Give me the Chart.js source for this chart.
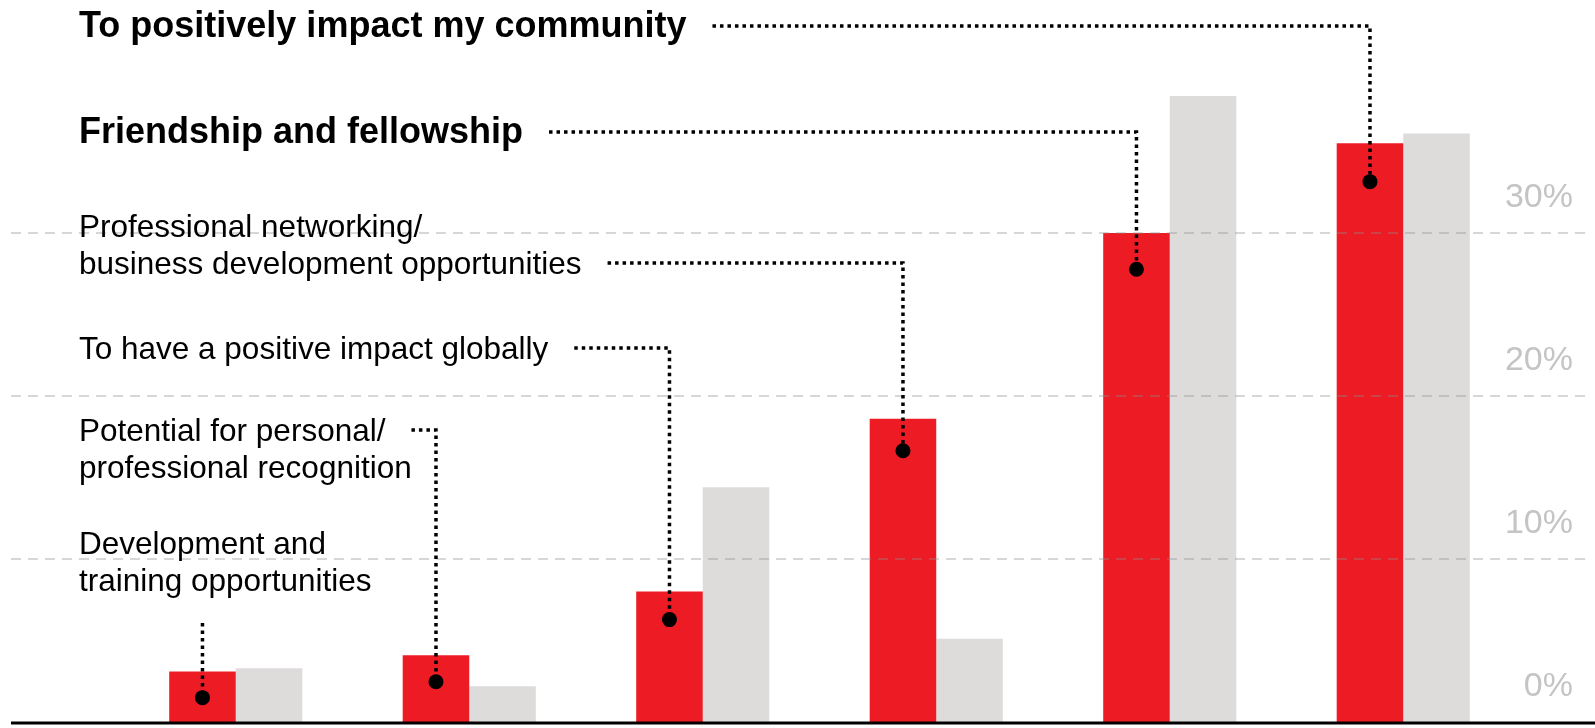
<!DOCTYPE html>
<html>
<head>
<meta charset="utf-8">
<script src="https://cdn.jsdelivr.net/npm/chart.js@4/dist/chart.umd.min.js"></script>
<style>
  body { margin: 0; background: #fff; }
  #wrap { width: 1595px; height: 728px; position: relative; }
</style>
</head>
<body>
<div id="wrap"><canvas id="reasonsChart"></canvas></div>
<script>
// categories, as they are written beside the chart (one entry per bar pair)
const categories = [
    ['Development and', 'training opportunities'],
    ['Potential for personal/', 'professional recognition'],
    ['To have a positive impact globally'],
    ['Professional networking/', 'business development opportunities'],
    ['Friendship and fellowship'],
    ['To positively impact my community']
];

// percent values
const redValues = [3.1, 4.1, 8.0, 18.6, 30.0, 35.5];
const greyValues = [3.3, 2.2, 14.4, 5.1, 38.4, 36.1];

const yTicks = [0, 10, 20, 30];

// where each label sits (text baseline of first line) and which line the leader leaves from
const noteLayout = [
    { y: 554, bold: false, leaderLine: -1, leaderTop: 623 },
    { y: 441, bold: false, leaderLine: 0 },
    { y: 359, bold: false, leaderLine: 0 },
    { y: 237, bold: false, leaderLine: 1 },
    { y: 143, bold: true, leaderLine: 0 },
    { y: 37, bold: true, leaderLine: 0 }
];

const FONT = '"Liberation Sans", Arial, sans-serif';

const notesPlugin = {
    id: 'notes',
    afterDatasetsDraw(chart) {
        const c = chart.ctx;
        const ys = chart.scales.y;

        // dashed gridlines, drawn over the bars and wider than the plot
        c.save();
        c.strokeStyle = 'rgba(140,140,140,0.35)';
        c.lineWidth = 2;
        c.setLineDash([10, 7]);
        yTicks.forEach(t => {
            if (t === 0) return;
            const py = Math.round(ys.getPixelForValue(t));
            c.beginPath();
            c.moveTo(11, py);
            c.lineTo(1590, py);
            c.stroke();
        });
        c.restore();

        // baseline
        c.save();
        c.strokeStyle = '#000';
        c.lineWidth = 3;
        const by = ys.getPixelForValue(0) + 1;
        c.beginPath();
        c.moveTo(11, by);
        c.lineTo(1595, by);
        c.stroke();
        c.restore();

        // labels, leaders and dots
        const bars = chart.getDatasetMeta(0).data;
        categories.forEach((lines, i) => {
            const lay = noteLayout[i];
            const bar = bars[i];
            const size = lay.bold ? 36 : 31.5;
            c.save();
            c.font = (lay.bold ? 'bold ' : '') + size + 'px ' + FONT;
            c.fillStyle = '#000';
            c.textBaseline = 'alphabetic';
            c.textAlign = 'left';
            lines.forEach((ln, k) => c.fillText(ln, 79, lay.y + k * 37));

            const dx = bar.x;
            const dy = bar.y + 25 + 0.023 * (bar.base - bar.y);

            c.strokeStyle = '#000';
            c.lineWidth = 3.5;
            c.setLineDash([3.5, 4]);
            c.beginPath();
            if (lay.leaderLine < 0) {
                c.moveTo(dx, lay.leaderTop);
            } else {
                const ln = lines[lay.leaderLine];
                const ly = lay.y + lay.leaderLine * 37 - 11;
                const sx = 79 + c.measureText(ln).width + 26;
                c.moveTo(sx, ly);
                c.lineTo(dx, ly);
            }
            c.lineTo(dx, dy);
            c.stroke();

            c.setLineDash([]);
            c.beginPath();
            c.arc(dx, dy, 7.5, 0, Math.PI * 2);
            c.fill();
            c.restore();
        });
    }
};

const ctx = document.getElementById('reasonsChart').getContext('2d');

const chart = new Chart(ctx, {
    type: 'bar',
    data: {
        labels: categories.map(l => l.join(' ')),
        datasets: [{
            label: 'Red',
            data: redValues,
            backgroundColor: '#ED1C24',
            borderWidth: 0
        }, {
            label: 'Grey',
            data: greyValues,
            backgroundColor: '#DEDBDB',
            borderWidth: 0
        }]
    },
    options: {
        animation: false,
        responsive: true,
        maintainAspectRatio: false,
        devicePixelRatio: 1,
        layout: {
            padding: { left: 119, right: 22, top: 70, bottom: 6 }
        },
        datasets: {
            bar: { categoryPercentage: 0.57, barPercentage: 1.0 }
        },
        plugins: {
            legend: { display: false },
            tooltip: { enabled: false }
        },
        scales: {
            x: {
                display: false
            },
            y: {
                position: 'right',
                min: 0,
                max: 40,
                afterFit: s => {
                    s.width = 53;
                    s.paddingTop = 0;
                    s.paddingBottom = 0;
                },
                grid: { display: false },
                border: { display: false },
                ticks: {
                    stepSize: 10,
                    mirror: true,
                    padding: 53,
                    crossAlign: 'near',
                    labelOffset: -35,
                    color: '#c4c4c4',
                    font: { family: FONT, size: 34 },
                    callback: v => (yTicks.includes(v) ? v + '%' : '')
                }
            }
        }
    },
    plugins: [notesPlugin]
});
</script>
</body>
</html>
